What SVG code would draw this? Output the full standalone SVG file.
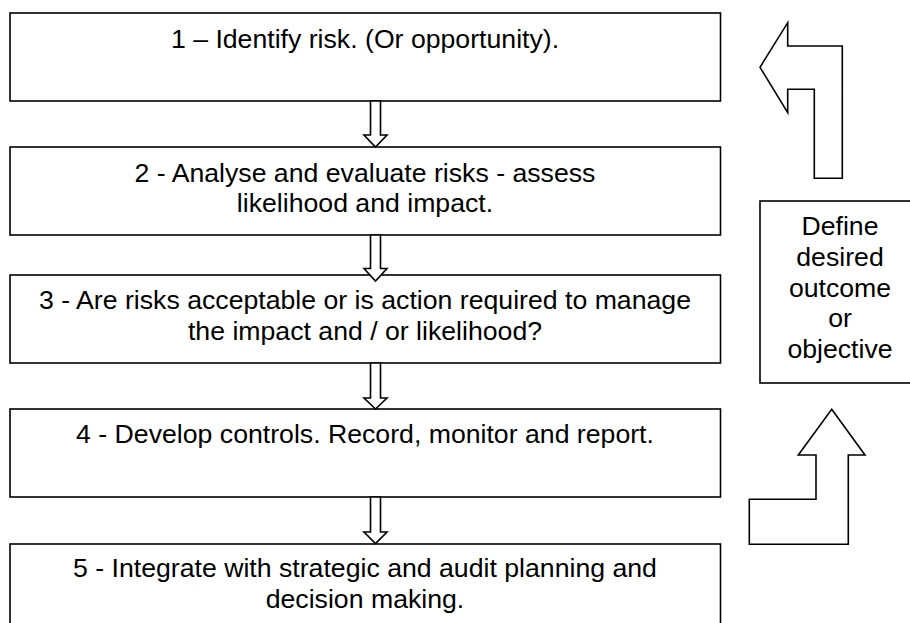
<svg xmlns="http://www.w3.org/2000/svg" width="910" height="623" viewBox="0 0 910 623">
<style>
.box{fill:#fff;stroke:#000;stroke-width:1.6}
.arr{fill:#fff;stroke:#000;stroke-width:1.6;stroke-linejoin:miter}
.t{font-family:"Liberation Sans",Arial,sans-serif;font-size:26.67px;fill:#000;text-anchor:middle}
</style>
<rect width="910" height="623" fill="#fff"/>
<g id="n1">
<rect class="box" x="10" y="13" width="710.5" height="88"/>
<text class="t" x="365" y="48">1 – Identify risk. (Or opportunity).</text>
</g>
<g id="n2">
<rect class="box" x="10" y="147" width="710.5" height="88"/>
<text class="t" x="365" y="181.5">2 - Analyse and evaluate risks - assess</text>
<text class="t" x="365" y="212">likelihood and impact.</text>
</g>
<g id="n3">
<rect class="box" x="10" y="275" width="710.5" height="88"/>
<text class="t" x="365" y="308.5">3 - Are risks acceptable or is action required to manage</text>
<text class="t" x="365" y="340">the impact and / or likelihood?</text>
</g>
<g id="n4">
<rect class="box" x="10" y="409" width="710.5" height="88"/>
<text class="t" x="365" y="443">4 - Develop controls. Record, monitor and report.</text>
</g>
<g id="n5">
<rect class="box" x="10" y="544" width="710.5" height="100"/>
<text class="t" x="365" y="577">5 - Integrate with strategic and audit planning and</text>
<text class="t" x="365" y="607.5">decision making.</text>
</g>
<g id="n6">
<rect class="box" x="760" y="201" width="160" height="182"/>
<text class="t" x="840" y="235">Define</text>
<text class="t" x="840" y="266">desired</text>
<text class="t" x="840" y="296.5">outcome</text>
<text class="t" x="840" y="327">or</text>
<text class="t" x="840" y="358">objective</text>
</g>
<g id="connectors">
<polygon class="arr" points="370.5,101 380.5,101 380.5,135 387,135 375.5,147 364,135 370.5,135"/>
<polygon class="arr" points="370.5,235 380.5,235 380.5,268.5 387,268.5 375.5,281 364,268.5 370.5,268.5"/>
<polygon class="arr" points="370.5,363 380.5,363 380.5,398 387,398 375.5,409 364,398 370.5,398"/>
<polygon class="arr" points="370.5,497 380.5,497 380.5,532 387,532 375.5,543.5 364,532 370.5,532"/>
<polygon class="arr" points="760,67.3 787.7,22.7 787.7,46 842.3,46 842.3,178.3 814.3,178.3 814.3,89.3 787.7,89.3 787.7,112.7"/>
<polygon class="arr" points="831.7,409.3 865,455 848.3,455 848.3,544.3 749.3,544.3 749.3,499.3 816,499.3 816,455 798.3,455"/>
</g>
</svg>
